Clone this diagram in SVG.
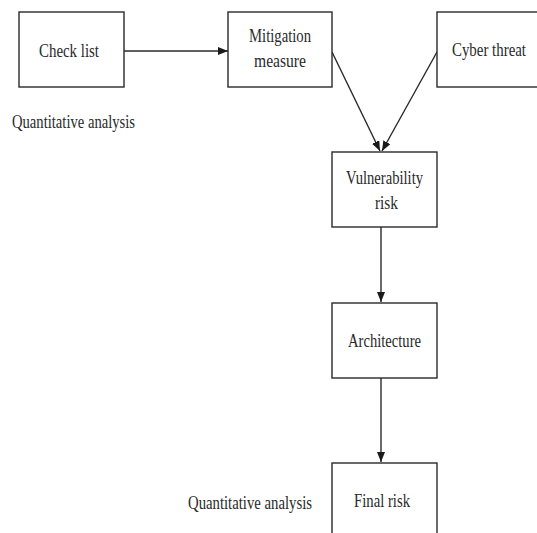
<svg xmlns="http://www.w3.org/2000/svg" width="537" height="533" viewBox="0 0 537 533">
<defs>
<style>
.box{fill:#fff;stroke:#2a2a2a;stroke-width:1.4}
.t{font-family:"Liberation Serif","Times New Roman",serif;font-size:19px;fill:#2a2a2a;text-anchor:middle}
.lbl{font-family:"Liberation Serif","Times New Roman",serif;font-size:19px;fill:#2a2a2a}
.c{stroke:#2a2a2a;stroke-width:1.4;fill:none;marker-end:url(#ah)}
</style>
<marker id="ah" viewBox="0 0 10 8" refX="10" refY="4" markerWidth="10" markerHeight="8" markerUnits="userSpaceOnUse" orient="auto">
<path d="M0,0 L10,4 L0,8 Z" fill="#1a1a1a"/>
</marker>
</defs>
<rect width="537" height="533" fill="#fff"/>
<g id="connectors">
<line class="c" x1="124" y1="51" x2="228" y2="51"/>
<line class="c" x1="332" y1="52" x2="380" y2="151"/>
<line class="c" x1="437" y1="52" x2="382" y2="151"/>
<line class="c" x1="381" y1="227" x2="381" y2="302"/>
<line class="c" x1="381" y1="378" x2="381" y2="462"/>
</g>
<g id="checklist">
<rect class="box" x="19" y="12" width="105" height="75"/>
<text class="t" x="69" y="57" textLength="60" lengthAdjust="spacingAndGlyphs">Check list</text>
</g>
<g id="mitigation">
<rect class="box" x="228" y="12" width="104" height="75"/>
<text class="t" x="280" y="42" textLength="62" lengthAdjust="spacingAndGlyphs">Mitigation</text>
<text class="t" x="280" y="67" textLength="52" lengthAdjust="spacingAndGlyphs">measure</text>
</g>
<g id="cyber">
<rect class="box" x="437" y="12" width="110" height="75"/>
<text class="t" x="489" y="56" textLength="74" lengthAdjust="spacingAndGlyphs">Cyber threat</text>
</g>
<g id="vulnerability">
<rect class="box" x="332" y="152" width="105" height="75"/>
<text class="t" x="384.5" y="184" textLength="77" lengthAdjust="spacingAndGlyphs">Vulnerability</text>
<text class="t" x="386.5" y="209" textLength="23" lengthAdjust="spacingAndGlyphs">risk</text>
</g>
<g id="architecture">
<rect class="box" x="332" y="303" width="105" height="75"/>
<text class="t" x="384.5" y="347" textLength="73" lengthAdjust="spacingAndGlyphs">Architecture</text>
</g>
<g id="finalrisk">
<rect class="box" x="332" y="463" width="105" height="80"/>
<text class="t" x="382" y="507" textLength="56" lengthAdjust="spacingAndGlyphs">Final risk</text>
</g>
<g id="labels">
<text class="lbl" x="12" y="128" textLength="123" lengthAdjust="spacingAndGlyphs">Quantitative analysis</text>
<text class="lbl" x="188" y="509" textLength="124" lengthAdjust="spacingAndGlyphs">Quantitative analysis</text>
</g>
</svg>
